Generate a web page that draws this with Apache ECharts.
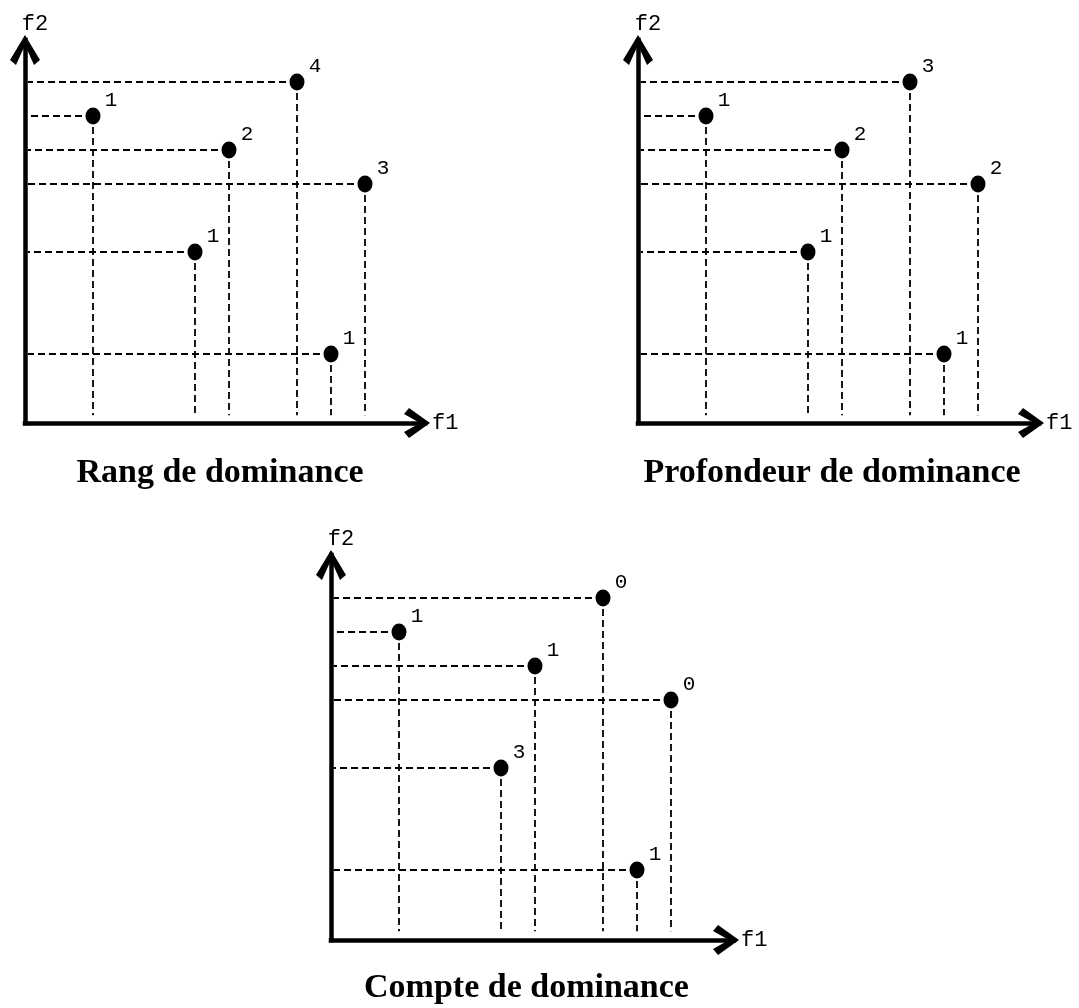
<!DOCTYPE html>
<html>
<head>
<meta charset="utf-8">
<script src="https://cdn.jsdelivr.net/npm/echarts@6/dist/echarts.min.js"></script>
<style>
  html, body { margin: 0; padding: 0; background: #fff; }
  #chart { width: 1079px; height: 1008px; }
</style>
</head>
<body>
<div id="chart"></div>
<script>
// Six solutions in the objective space (f1, f2), minimisation of both
const f1Values = [2, 6, 8, 10, 5, 9];
const f2Values = [9, 8, 10, 7, 5, 2];

// Per-solution scores for the three ranking schemes
const rangLabels = [1, 2, 4, 3, 1, 1];
const profondeurLabels = [1, 2, 3, 2, 1, 1];
const compteLabels = [1, 1, 0, 0, 3, 1];

const panelTitles = ['Rang de dominance', 'Profondeur de dominance', 'Compte de dominance'];
const axisNames = ['f1', 'f2'];

// ---- layout (pixels) ----
const UNIT = 34;            // pixels per objective unit
const H_START = 0.08;       // horizontal guides stop just right of the f2 axis
const V_END = 0.2;          // vertical guides stop just above the f1 axis

const panels = [
  { labels: rangLabels,       title: panelTitles[0], left: 25,  right: 425,  top: 40,  bottom: 423, originY: 422, titleX: 220,   titleTop: 456 },
  { labels: profondeurLabels, title: panelTitles[1], left: 638, right: 1039, top: 40,  bottom: 423, originY: 422, titleX: 832,   titleTop: 456 },
  { labels: compteLabels,     title: panelTitles[2], left: 331, right: 734,  top: 555, bottom: 940, originY: 938, titleX: 526.5, titleTop: 971 }
];

// Open "V" arrow heads with thick arms, drawn tip-up (ECharts rotates them along the axis)
const ARROW_X = 'path://M15 0 L30 21 L24 26 L15 10 L6 26 L0 21 Z';
const ARROW_Y = 'path://M15 0 L30 25 L24 30 L15 10 L6 30 L0 25 Z';

const monoFont = '"Liberation Mono", "DejaVu Sans Mono", monospace';
const serifFont = '"Liberation Serif", "DejaVu Serif", serif';

const grid = [], xAxis = [], yAxis = [], series = [], title = [];

panels.forEach((p, k) => {
  grid.push({
    left: p.left, top: p.top,
    width: p.right - p.left, height: p.bottom - p.top,
    containLabel: false, outerBoundsMode: 'none'
  });

  xAxis.push({
    gridIndex: k, type: 'value',
    min: 0, max: (p.right - p.left) / UNIT,
    name: axisNames[0], nameLocation: 'end', nameGap: 7,
    nameTextStyle: { fontFamily: monoFont, fontSize: 22, color: '#000', verticalAlign: 'middle' },
    axisLine: {
      onZero: false,
      lineStyle: { color: '#000', width: 4.5, cap: 'square' },
      symbol: ['none', ARROW_X], symbolSize: [30, 26], symbolOffset: [0, 5 - 13]
    },
    axisTick: { show: false }, axisLabel: { show: false }, splitLine: { show: false }
  });

  yAxis.push({
    gridIndex: k, type: 'value',
    min: (p.originY - p.bottom) / UNIT, max: (p.originY - p.top) / UNIT,
    name: axisNames[1], nameLocation: 'end', nameGap: 5,
    nameTextStyle: { fontFamily: monoFont, fontSize: 22, color: '#000', padding: [0, 0, 0, 20] },
    axisLine: {
      onZero: false,
      lineStyle: { color: '#000', width: 4.5, cap: 'square' },
      symbol: ['none', ARROW_Y], symbolSize: [30, 30], symbolOffset: [0, 5 - 15]
    },
    axisTick: { show: false }, axisLabel: { show: false }, splitLine: { show: false }
  });

  // dashed projections of every point onto both axes
  const guides = [];
  f1Values.forEach((x, i) => {
    const y = f2Values[i];
    guides.push({ coords: [[x, y], [H_START, y]] });
    guides.push({ coords: [[x, y], [x, V_END]] });
  });
  series.push({
    type: 'lines', coordinateSystem: 'cartesian2d',
    xAxisIndex: k, yAxisIndex: k,
    silent: true, z: 1,
    lineStyle: { color: '#000', width: 1.8, type: [7, 4], opacity: 1 },
    data: guides
  });

  series.push({
    type: 'scatter', xAxisIndex: k, yAxisIndex: k, z: 3,
    symbol: 'circle', symbolSize: [15, 17],
    itemStyle: { color: '#000', opacity: 1 },
    label: {
      show: true, position: 'inside', offset: [18, -16],
      fontFamily: monoFont, fontSize: 21, color: '#000',
      formatter: (d) => String(d.value[2])
    },
    data: f1Values.map((x, i) => [x, f2Values[i], p.labels[i]])
  });

  title.push({
    text: p.title, left: p.titleX, top: p.titleTop, textAlign: 'center', padding: 0,
    textStyle: { fontFamily: serifFont, fontWeight: 'bold', fontSize: 34, color: '#000' }
  });
});

const chart = echarts.init(document.getElementById('chart'), null, { renderer: 'canvas' });
chart.setOption({
  animation: false,
  backgroundColor: '#fff',
  title, grid, xAxis, yAxis, series
});
</script>
</body>
</html>
